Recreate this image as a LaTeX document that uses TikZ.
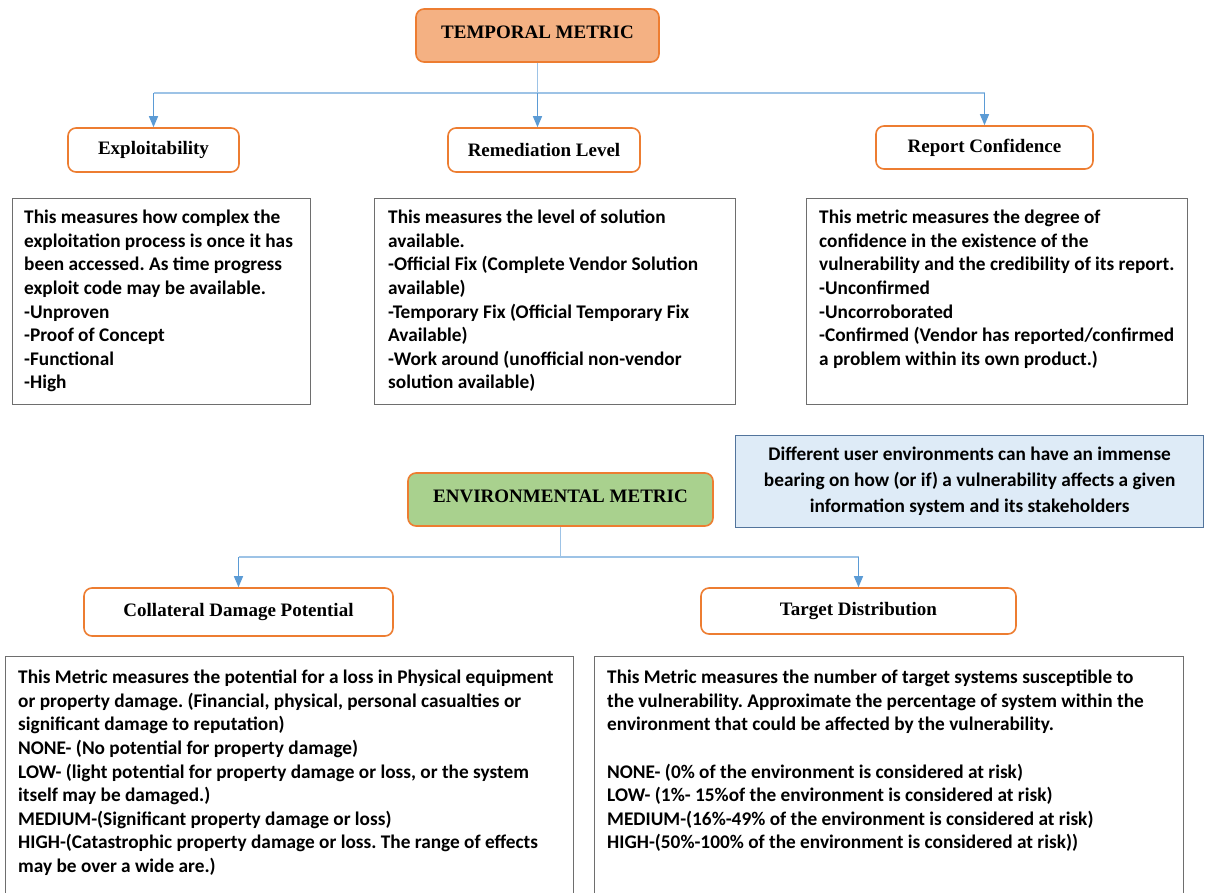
\documentclass[tikz,border=0pt]{standalone}
\usepackage{fontspec}
\setmainfont{Carlito}
\newfontfamily\titlefont{Liberation Serif}
\usetikzlibrary{arrows.meta}
\definecolor{orangeB}{HTML}{ED7D31}
\definecolor{orangeF}{HTML}{F4B183}
\definecolor{greenF}{HTML}{A9D18E}
\definecolor{linkC}{HTML}{9DC3E6}
\definecolor{arrowC}{HTML}{5B9BD5}
\definecolor{grayB}{HTML}{6E6E6E}
\definecolor{noteF}{HTML}{DEEBF7}
\definecolor{noteB}{HTML}{52749C}
\frenchspacing
\begin{document}
\begin{tikzpicture}[x=1pt,y=-1pt,
  titlebox/.style={draw=orangeB, line width=1.6pt, rounded corners=8pt, fill=white,
    inner sep=0pt, font=\titlefont\bfseries\fontsize{19}{22}\selectfont},
  metricbox/.style={titlebox, minimum height=53pt, text depth=7pt},
  textbox/.style={draw=grayB, line width=1.2pt, fill=white, inner sep=0pt, anchor=north west},
  body/.style={inner sep=0pt, anchor=north west, align=left,
    font=\bfseries\fontsize{19.3}{23.6}\selectfont},
  link/.style={draw=linkC, line width=1.3pt},
  arr/.style={draw=arrowC, line width=1.3pt, -{Triangle[width=9pt,length=11pt]}}]
\clip (0,0) rectangle (1205,892);
\fill[white] (0,0) rectangle (1205,892);

% temporal metric branch
\node[metricbox, fill=orangeF, minimum width=243pt] (tm) at (537.5,35.5) {TEMPORAL METRIC};
\node[titlebox, minimum width=171pt, minimum height=44pt] (exp) at (153.5,150) {Exploitability};
\node[titlebox, minimum width=192pt, minimum height=44pt] (rl) at (544,150) {Remediation Level};
\node[titlebox, minimum width=217pt, minimum height=43pt] (rc) at (984.5,147.5) {Report Confidence};

\coordinate (tbar) at (537,93);
\draw[link] (tm.south) -- (tm.south |- tbar);
\draw[link] (exp.north |- tbar) -- (rc.north |- tbar);
\draw[arr] (exp.north |- tbar) -- (exp.north);
\draw[arr] (tm.south |- tbar) -- (tm.south |- rl.north);
\draw[arr] (rc.north |- tbar) -- (rc.north);

\node[textbox, minimum width=298pt, minimum height=206pt] (b1) at (12,198) {};
\node[textbox, minimum width=361pt, minimum height=206pt] (b2) at (374,198) {};
\node[textbox, minimum width=381pt, minimum height=206pt] (b3) at (806,198) {};

\node[body] (t1) at ([shift={(12,12)}]b1.north west) {This measures how complex the\\
exploitation process is once it has\\
been accessed. As time progress\\
exploit code may be available.\\
-Unproven\\
-Proof of Concept\\
-Functional\\
-High};
\node[body] (t2) at ([shift={(14,12)}]b2.north west) {This measures the level of solution\\
available.\\
-Official Fix (Complete Vendor Solution\\
available)\\
-Temporary Fix (Official Temporary Fix\\
Available)\\
-Work around (unofficial non-vendor\\
solution available)};
\node[body] (t3) at ([shift={(13,12)}]b3.north west) {This metric measures the degree of\\
confidence in the existence of the\\
vulnerability and the credibility of its report.\\
-Unconfirmed\\
-Uncorroborated\\
-Confirmed (Vendor has reported/confirmed\\
a problem within its own product.)};

% environmental metric branch
\node[draw=noteB, line width=1.3pt, fill=noteF, anchor=north west, minimum width=468pt,
  minimum height=92pt, inner sep=0pt, align=center,
  font=\bfseries\fontsize{19.3}{26}\selectfont] (note) at (735,435)
  {Different user environments can have an immense\\
   bearing on how (or if) a vulnerability affects a given\\
   information system and its stakeholders};

\node[metricbox, fill=greenF, minimum width=305pt] (em) at (560.5,499.5) {ENVIRONMENTAL METRIC};
\node[titlebox, minimum width=309pt, minimum height=48pt] (cdp) at (238.5,612) {Collateral Damage Potential};
\node[titlebox, minimum width=315pt, minimum height=46pt] (td) at (858.5,611) {Target Distribution};

\coordinate (ebar) at (565,557);
\draw[link] (em.south) -- (em.south |- ebar);
\draw[link] (cdp.north |- ebar) -- (td.north |- ebar);
\draw[arr] (cdp.north |- ebar) -- (cdp.north);
\draw[arr] (td.north |- ebar) -- (td.north);

\node[textbox, minimum width=568pt, minimum height=250pt] (b4) at (5,656) {};
\node[textbox, minimum width=589pt, minimum height=250pt] (b5) at (594,656) {};

\node[body] (t4) at ([shift={(13,14)}]b4.north west) {This Metric measures the potential for a loss in Physical equipment\\
or property damage. (Financial, physical, personal casualties or\\
significant damage to reputation)\\
NONE- (No potential for property damage)\\
LOW- (light potential for property damage or loss, or the system\\
itself may be damaged.)\\
MEDIUM-(Significant property damage or loss)\\
HIGH-(Catastrophic property damage or loss. The range of effects\\
may be over a wide are.)};
\node[body] (t5) at ([shift={(13,14)}]b5.north west) {This Metric measures the number of target systems susceptible to\\
the vulnerability. Approximate the percentage of system within the\\
environment that could be affected by the vulnerability.\\[23.6pt]
NONE- (0\% of the environment is considered at risk)\\
LOW- (1\%- 15\%of the environment is considered at risk)\\
MEDIUM-(16\%-49\% of the environment is considered at risk)\\
HIGH-(50\%-100\% of the environment is considered at risk))};
\end{tikzpicture}
\end{document}
